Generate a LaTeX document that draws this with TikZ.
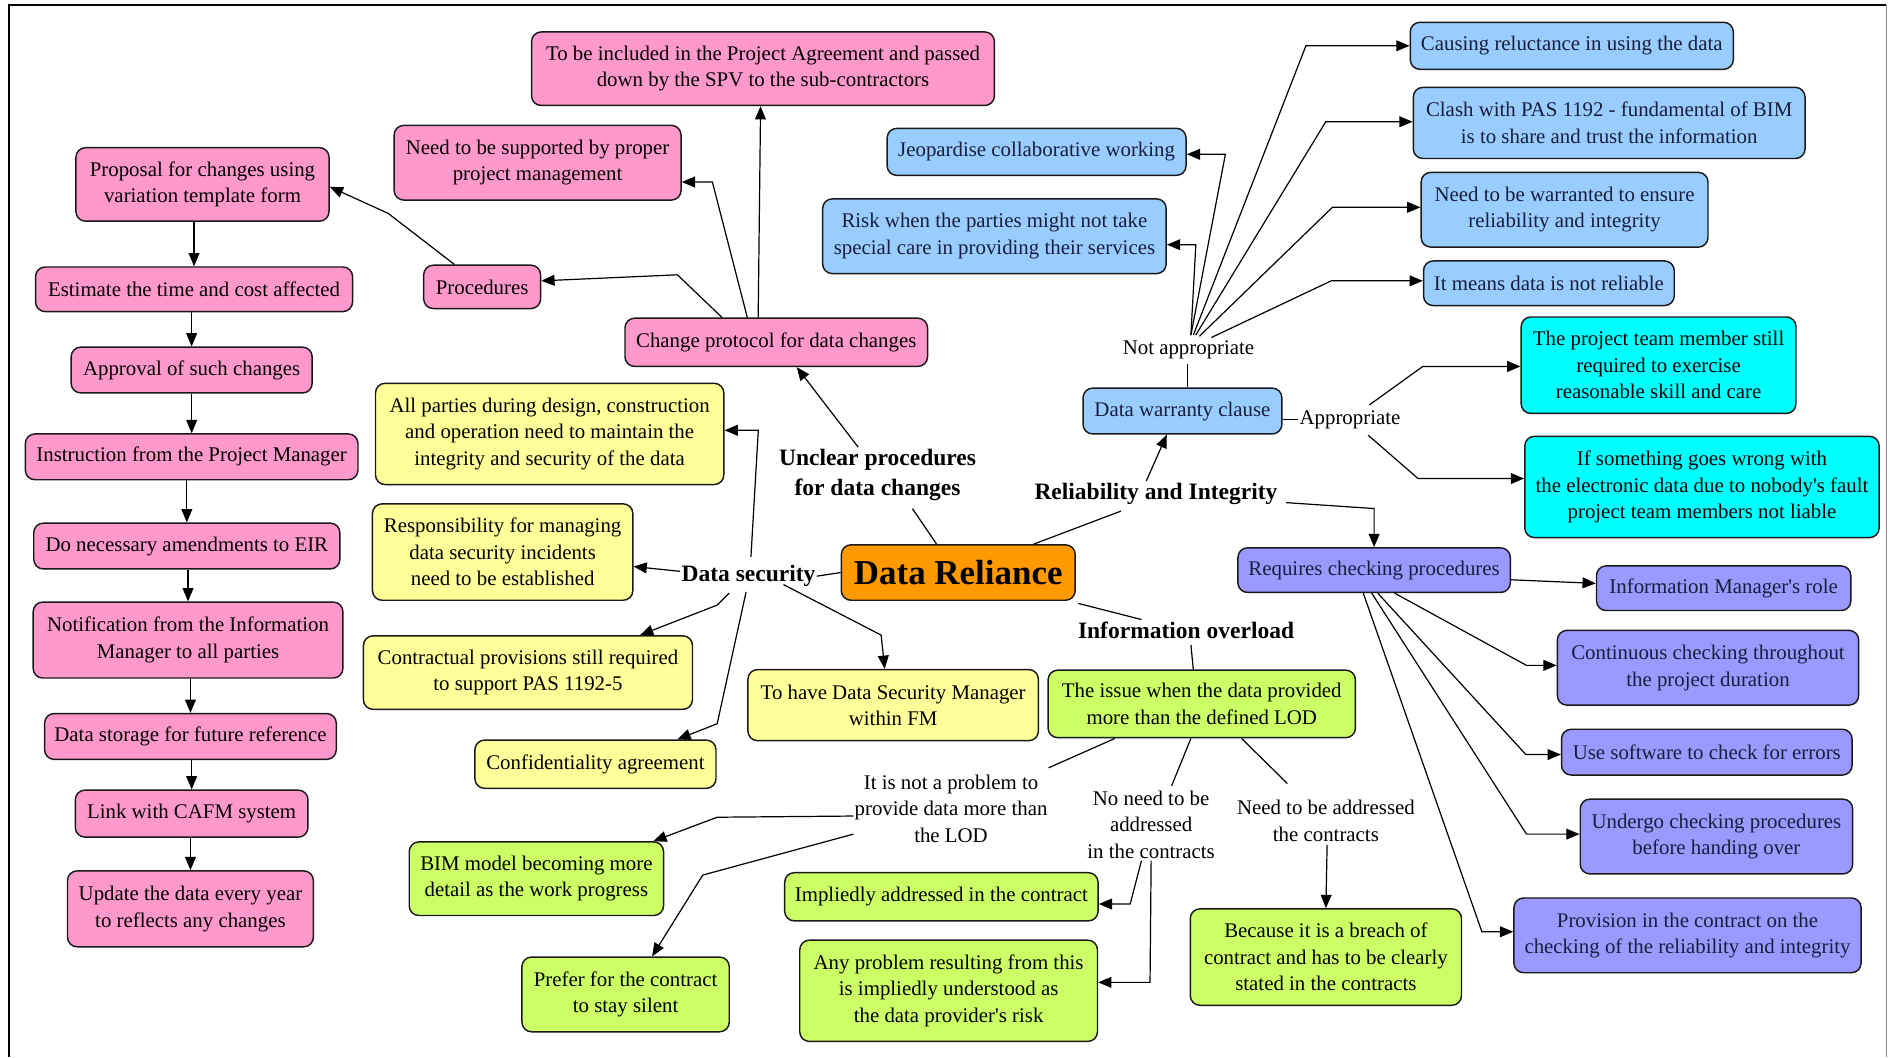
\documentclass[tikz,border=0pt]{standalone}
\usepackage{fontspec}
\setmainfont{Liberation Serif}
\usetikzlibrary{arrows.meta,calc}

\definecolor{mpink}{HTML}{FF99CC}
\definecolor{myellow}{HTML}{FFFF99}
\definecolor{mgreen}{HTML}{CCFF66}
\definecolor{mblue}{HTML}{99CCFF}
\definecolor{mcyan}{HTML}{00FFFF}
\definecolor{mpurple}{HTML}{9999FF}
\definecolor{morange}{HTML}{FF9900}
\definecolor{navytext}{RGB}{25,30,60}

\newcommand\bodyfont{\fontsize{17.3}{22}\selectfont}
\newcommand\headfont{\fontsize{19.5}{25}\selectfont\bfseries}
\newcommand\corefont{\fontsize{29}{34}\selectfont\bfseries}
\newcommand\apos{\textquotesingle}

\begin{document}
\begin{tikzpicture}[x=1pt,y=-1pt,
  box/.style={draw=black!90, line width=1.2pt, rounded corners=8pt, align=center,
              font=\bodyfont, inner xsep=4pt, inner ysep=2pt},
  pk/.style={box, fill=mpink},
  yl/.style={box, fill=myellow},
  gr/.style={box, fill=mgreen},
  bl/.style={box, fill=mblue, text=navytext},
  cy/.style={box, fill=mcyan},
  pu/.style={box, fill=mpurple, text=navytext},
  sz/.style 2 args={minimum width=#1pt, minimum height=#2pt},
  lab/.style={align=center, font=\bodyfont, inner sep=1pt},
  head/.style={align=center, font=\headfont, inner sep=1pt},
  link/.style={line width=1pt, draw=black},
  arr/.style={link, -{Triangle[length=11pt,width=9pt]}},
]
\useasboundingbox (0,0) rectangle (1568,877);

% frame
\draw[line width=2pt] (7.5,877) -- (7.5,4) -- (1565,4);
\draw[black!45, line width=0.8pt] (1565,4) -- (1565,877);

% ---------- change procedure sequence ----------
\node[pk, sz={210}{61}] (prop)  at (168,153) {Proposal for changes using\\variation template form};
\node[pk, sz={263}{37}] (est)   at (161,240) {Estimate the time and cost affected};
\node[pk, sz={200}{38}] (appr)  at (159,307) {Approval of such changes};
\node[pk, sz={276}{38}] (instr) at (159,379) {Instruction from the Project Manager};
\node[pk, sz={254}{38}] (amend) at (155,453) {Do necessary amendments to EIR};
\node[pk, sz={257}{63}] (notif) at (156,531) {Notification from the Information\\Manager to all parties};
\node[pk, sz={242}{38}] (store) at (158,611) {Data storage for future reference};
\node[pk, sz={193}{39}] (cafm)  at (159,675) {Link with CAFM system};
\node[pk, sz={204}{63}] (upd)   at (158,754) {Update the data every year\\to reflects any changes};

\node[pk, sz={384}{61}] (incl) at (633,57) {To be included in the Project Agreement and passed\\down by the SPV to the sub-contractors};
\node[pk, sz={238}{62}] (need) at (446,135) {Need to be supported by proper\\project management};
\node[pk, sz={97}{36}]  (proc) at (400,238) {Procedures};
\node[pk, sz={251}{40}] (chg)  at (644,284) {Change protocol for data changes};

% ---------- data security ----------
\node[yl, sz={289}{84}] (allp)  at (456,360) {All parties during design, construction\\and operation need to maintain the\\integrity and security of the data};
\node[yl, sz={216}{80}] (resp)  at (417,458) {Responsibility for managing\\data security incidents\\need to be established};
\node[yl, sz={273}{61}] (contr) at (438,558) {Contractual provisions still required\\to support PAS 1192-5};
\node[yl, sz={200}{40}] (conf)  at (494,634) {Confidentiality agreement};
\node[yl, sz={241}{59}] (dsm)   at (741,585) {To have Data Security Manager\\within FM};

% ---------- information overload ----------
\node[gr, sz={255}{56}] (issue) at (997,584) {The issue when the data provided\\more than the defined LOD};
\node[gr, sz={211}{61}] (bim)   at (445,729) {BIM model becoming more\\detail as the work progress};
\node[gr, sz={172}{62}] (pref)  at (519,825) {Prefer for the contract\\to stay silent};
\node[gr, sz={260}{40}] (impl)  at (781,744) {Impliedly addressed in the contract};
\node[gr, sz={247}{84}] (anyp)  at (787,822) {Any problem resulting from this\\is impliedly understood as\\the data provider\apos s risk};
\node[gr, sz={225}{80}] (brch)  at (1100,794) {Because it is a breach of\\contract and has to be clearly\\stated in the contracts};

% ---------- warranty ----------
\node[bl, sz={248}{39}] (jeop)   at (860,126) {Jeopardise collaborative working};
\node[bl, sz={285}{62}] (risk)   at (825,196) {Risk when the parties might not take\\special care in providing their services};
\node[bl, sz={268}{39}] (caus)   at (1304,38) {Causing reluctance in using the data};
\node[bl, sz={325}{59}] (clash)  at (1335,102) {Clash with PAS 1192 - fundamental of BIM\\is to share and trust the information};
\node[bl, sz={238}{62}] (warr)   at (1298,174) {Need to be warranted to ensure\\reliability and integrity};
\node[bl, sz={208}{37}] (notrel) at (1285,235) {It means data is not reliable};
\node[bl, sz={165}{38}] (dwc)    at (981,341) {Data warranty clause};

\node[cy, sz={228}{80}] (ptm)  at (1376,303) {The project team member still\\required to exercise\\reasonable skill and care};
\node[cy, sz={294}{84}] (iswg) at (1412,404) {If something goes wrong with\\the electronic data due to nobody\apos s fault\\project team members not liable};

% ---------- checking ----------
\node[pu, sz={226}{37}] (req)  at (1140,473) {Requires checking procedures};
\node[pu, sz={211}{37}] (imr)  at (1430,488) {Information Manager\apos s role};
\node[pu, sz={250}{62}] (cont) at (1417,554) {Continuous checking throughout\\the project duration};
\node[pu, sz={241}{38}] (usw)  at (1416,624) {Use software to check for errors};
\node[pu, sz={226}{62}] (undg) at (1424,694) {Undergo checking procedures\\before handing over};
\node[pu, sz={288}{62}] (prov) at (1400,776) {Provision in the contract on the\\checking of the reliability and integrity};

% ---------- centre ----------
\node[box, fill=morange, font=\corefont, sz={194}{46}] (dr) at (795,475) {Data Reliance};

% ---------- branch labels ----------
\node[head] (uncl)   at (728,394) {Unclear procedures\\for data changes};
\node[head] (dsec)   at (621,478) {Data security};
\node[head] (relint) at (959,410) {Reliability and Integrity};
\node[head] (infov)  at (984,523) {Information overload};
\node[lab]  (notapp) at (986,290) {Not appropriate};
\node[lab]  (approp) at (1120,348) {Appropriate};
\node[lab]  (notprob) at (789,671) {It is not a problem to\\provide data more than\\the LOD};
\node[lab]  (noneed)  at (955,684) {No need to be\\addressed\\in the contracts};
\node[lab]  (needadd) at (1100,681) {Need to be addressed\\the contracts};

% ---------- connectors ----------
\foreach \a/\b in {prop/est, est/appr, appr/instr, instr/amend, amend/notif, notif/store, store/cafm, cafm/upd}
  \draw[arr] (\a.south -| \b.north) -- (\b.north);

\draw[arr] ($(chg.north)+(-45,0)$) -- (562,228) -- ($(proc.east)+(0,-5)$);
\draw[arr] ($(chg.north)+(-24,0)$) -- (591,151) -- ($(need.east)+(0,16)$);
\draw[arr] ($(chg.north)+(-15,0)$) -- ($(incl.south)+(-2,0)$);
\draw[arr] ($(proc.north)+(-23,0)$) -- (322,177) -- ($(prop.east)+(0,2)$);

\draw[arr]  ($(uncl)+(-16,-23)$) -- ($(chg.south)+(17,0)$);
\draw[link] ($(uncl)+(29,28)$) -- ($(dr.north)+(-18,0)$);
\draw[link] ($(dr.north east)+(-35,0)$) -- ($(relint)+(-29,14)$);
\draw[arr]  ($(relint)+(-8,-11)$) -- ($(dwc.south)+(-13,0)$);
\draw[arr]  ($(relint)+(108,7)$) -- ($(req.north)+(0,-32)$) -- (req.north);
\draw[link] (dsec.east) -- (dr.west);
\draw[link] ($(dr.south east)+(2,2)$) -- ($(infov)+(-37,-9)$);
\draw[link] ($(infov)+(4,12)$) -- ($(issue.north)+(-7,0)$);

\draw[arr] ($(dsec)+(2,-16)$) -- ($(allp.east)+(28,-3)$) -- ($(allp.east)+(0,-3)$);
\draw[arr] ($(dsec.west)+(0,-4)$) -- ($(resp.east)+(0,12)$);
\draw[arr] ($(dsec)+(-16,14)$) -- ($(dsec)+(-26,24)$) -- ($(contr.north)+(93,0)$);
\draw[arr] ($(dsec)+(-2,13)$) -- ($(conf.north)+(101,-13)$) -- ($(conf.north)+(68,0)$);
\draw[arr] ($(dsec)+(29,7)$) -- ($(dsm.north)+(-10,-28)$) -- ($(dsm.north)+(-7,0)$);

\draw[link] ($(issue.south)+(-72,0)$) -- ($(notprob)+(81,-34)$);
\draw[link] ($(issue.south)+(-9,0)$) -- ($(noneed)+(17,-32)$);
\draw[link] ($(issue.south)+(33,0)$) -- ($(needadd)+(-32,-31)$);

\draw[arr] ($(notprob)+(-81,6)$) -- ($(notprob)+(-194,7)$) -- ($(bim.north)+(97,0)$);
\draw[arr] ($(notprob)+(-81,21)$) -- ($(notprob)+(-206,55)$) -- ($(pref.north)+(22,0)$);
\draw[arr] ($(noneed)+(-8,30)$) -- ($(impl.east)+(26,6)$) -- ($(impl.east)+(0,6)$);
\draw[arr] ($(noneed)+(0,30)$) -- ($(anyp.east)+(43,-7)$) -- ($(anyp.east)+(0,-7)$);
\draw[arr] ($(needadd)+(1,20)$) -- (brch.north);

\draw[arr] ($(notapp)+(2,-12)$) -- ($(risk.east)+(24,7)$) -- ($(risk.east)+(0,7)$);
\draw[arr] ($(notapp)+(2,-12)$) -- ($(jeop.east)+(32,2)$) -- ($(jeop.east)+(0,2)$);
\draw[arr] ($(notapp)+(4,-12)$) -- ($(caus.west)+(-86,0)$) -- (caus.west);
\draw[arr] ($(notapp)+(6,-12)$) -- ($(clash.west)+(-72,-1)$) -- ($(clash.west)+(0,-1)$);
\draw[arr] ($(notapp)+(9,-11)$) -- ($(warr.west)+(-73,-2)$) -- ($(warr.west)+(0,-2)$);
\draw[arr] ($(notapp)+(19,-10)$) -- ($(notrel.west)+(-76,-2)$) -- ($(notrel.west)+(0,-2)$);
\draw[link] ($(dwc.north)+(4,0)$) -- ($(notapp)+(-1,12)$);
\draw[link] (dwc.east |- approp.west) -- (approp.west);

\draw[arr] ($(approp)+(16,-12)$) -- ($(ptm.west)+(-81,1)$) -- ($(ptm.west)+(0,1)$);
\draw[arr] ($(approp)+(15,13)$) -- ($(iswg.west)+(-88,-7)$) -- ($(iswg.west)+(0,-7)$);

\draw[arr] ($(req.east)+(0,8)$) -- ($(imr.west)+(0,-4)$);
\draw[arr] ($(req.south)+(17,0)$) -- ($(cont.west)+(-25,-2)$) -- ($(cont.west)+(0,-2)$);
\draw[arr] ($(req.south)+(3,0)$)  -- ($(usw.west)+(-29,2)$)  -- ($(usw.west)+(0,2)$);
\draw[arr] ($(req.south)+(-2,0)$) -- ($(undg.west)+(-44,-2)$) -- ($(undg.west)+(0,-2)$);
\draw[arr] ($(req.south)+(-9,0)$) -- ($(prov.west)+(-26,-3)$) -- ($(prov.west)+(0,-3)$);
\end{tikzpicture}
\end{document}
